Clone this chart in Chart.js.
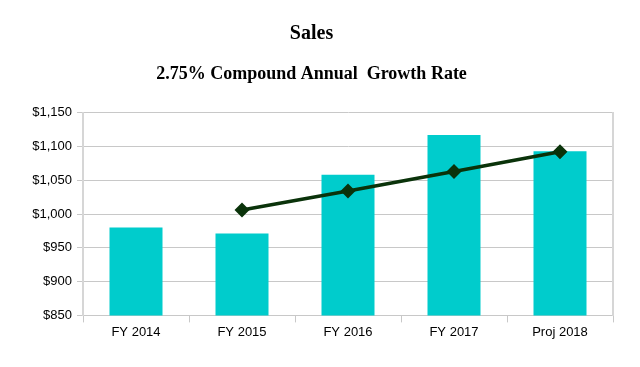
<!DOCTYPE html>
<html>
<head>
<meta charset="utf-8">
<script src="https://cdn.jsdelivr.net/npm/chart.js@4/dist/chart.umd.min.js"></script>
<style>
  html, body { margin: 0; padding: 0; background: #ffffff; }
  #wrap { width: 640px; height: 367px; }
</style>
</head>
<body>
<div id="wrap"><canvas id="c" width="640" height="367"></canvas></div>
<script>
const categories = ["FY 2014", "FY 2015", "FY 2016", "FY 2017", "Proj 2018"];
const salesValues = [980, 971, 1058, 1117, 1093];
const cagrLine = [null, 1006, 1034, 1063, 1092];
const yMin = 850, yMax = 1150, yStep = 50;
const titleText = "Sales";
const subtitleText = "2.75% Compound Annual  Growth Rate";

const gridGray = "#c8c8c8";

new Chart(document.getElementById("c"), {
  data: {
    labels: categories,
    datasets: [
      {
        type: "line",
        label: "CAGR",
        data: cagrLine,
        borderColor: "#0a330a",
        backgroundColor: "#0a330a",
        borderWidth: 3.5,
        pointStyle: "rectRot",
        pointRadius: 5,
        pointHoverRadius: 5,
        tension: 0,
        order: 0
      },
      {
        type: "bar",
        label: "Sales",
        data: salesValues,
        backgroundColor: "#00cccc",
        borderWidth: 0,
        barPercentage: 0.5,
        categoryPercentage: 1.0,
        order: 1
      }
    ]
  },
  options: {
    responsive: false,
    animation: false,
    layout: { padding: { left: 10, right: 27, top: 0, bottom: 25 } },
    plugins: {
      legend: { display: false },
      tooltip: { enabled: false },
      title: {
        display: true,
        text: titleText,
        color: "#000",
        font: { family: "Liberation Serif", size: 20, weight: "bold" },
        padding: { top: 22, bottom: 18 }
      },
      subtitle: {
        display: true,
        text: subtitleText,
        color: "#000",
        font: { family: "Liberation Serif", size: 18, weight: "bold" },
        padding: { top: 0, bottom: 27 }
      }
    },
    scales: {
      x: {
        offset: true,
        grid: {
          offset: true,
          drawOnChartArea: false,
          drawTicks: true,
          tickLength: 7,
          color: gridGray
        },
        border: { display: true, color: gridGray },
        ticks: {
          color: "#000",
          font: { family: "Liberation Sans", size: 13 },
          padding: 2
        }
      },
      y: {
        min: yMin,
        max: yMax,
        afterFit: (s) => { s.width = 73; },
        grid: {
          color: gridGray,
          drawTicks: true,
          tickLength: 6
        },
        border: { display: true, color: "#d6d6d6", width: 2 },
        ticks: {
          stepSize: yStep,
          color: "#000",
          font: { family: "Liberation Sans", size: 13 },
          padding: 5,
          callback: (v) => "$" + Number(v).toLocaleString("en-US")
        }
      },
      yRight: {
        position: "right",
        min: yMin,
        max: yMax,
        afterFit: (s) => { s.width = 0; },
        grid: { display: false },
        ticks: { display: false },
        border: { display: true, color: "#d6d6d6", width: 2 }
      }
    }
  }
});
</script>
</body>
</html>
